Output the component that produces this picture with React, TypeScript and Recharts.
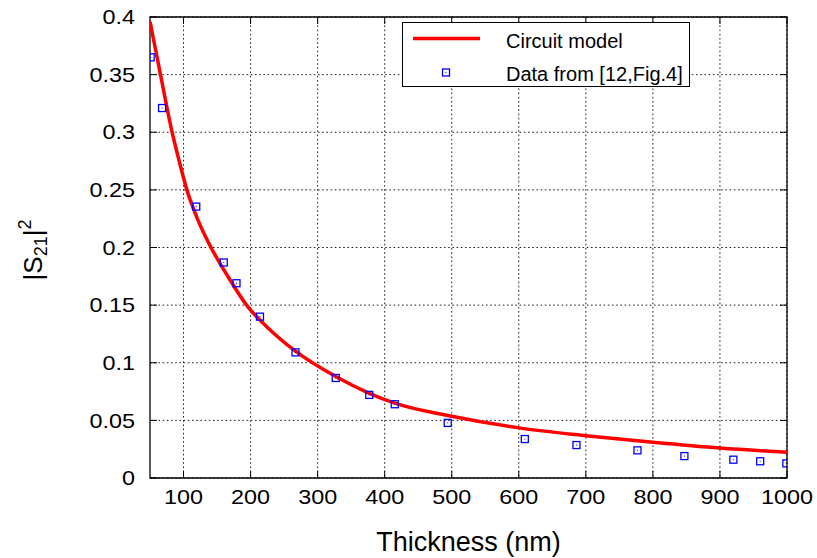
import React from 'react';
import {
  ComposedChart,
  Line,
  Scatter,
  XAxis,
  YAxis,
  CartesianGrid,
  ReferenceArea,
  Legend,
  Label,
} from 'recharts';

// ---- data ----
const modelThickness = [50, 65, 83, 94, 105, 120, 141, 165, 194, 230, 267, 327, 377, 415, 500, 600, 700, 800, 900, 1000];
const modelS21 = [0.396, 0.352, 0.3, 0.274, 0.25, 0.226, 0.2, 0.176, 0.15, 0.128, 0.11, 0.088, 0.0735, 0.065, 0.0536, 0.0435, 0.0367, 0.031, 0.026, 0.0223];

const dataThickness = [51, 68, 119, 160, 179, 214, 267, 327, 377, 415, 494, 609, 686, 777, 847, 920, 960, 999];
const dataS21 = [0.365, 0.321, 0.2355, 0.187, 0.169, 0.14, 0.109, 0.0868, 0.0721, 0.064, 0.0478, 0.0338, 0.0286, 0.024, 0.019, 0.0159, 0.0145, 0.0127];

const xTicks = [100, 200, 300, 400, 500, 600, 700, 800, 900, 1000];
const yTicks = [0, 0.05, 0.1, 0.15, 0.2, 0.25, 0.3, 0.35, 0.4];

const seriesNames = ['Circuit model', 'Data from [12,Fig.4]'];
const xLabel = 'Thickness (nm)';

const modelData = modelThickness.map((x, i) => ({ x, y: modelS21[i] }));
const pointData = dataThickness.map((x, i) => ({ x, y: dataS21[i] }));

// ---- styles ----
const FONT = "'Liberation Sans', Arial, Helvetica, sans-serif";
const W = 817;
const H = 558;
const PLOT_LEFT = 150;
const PLOT_TOP = 17;
const PLOT_RIGHT = 787;
const PLOT_BOTTOM = 478;
const TICK_LEN = 7;
const TICK_STRETCH = 1.17;

const fmt = (v: number) => String(Number(v.toFixed(2)));

const YTick = (props: any) => {
  const { y, payload } = props;
  return (
    <g>
      <line x1={PLOT_LEFT} x2={PLOT_LEFT + TICK_LEN} y1={y} y2={y} stroke="#000" strokeWidth={1} />
      <line x1={PLOT_RIGHT} x2={PLOT_RIGHT - TICK_LEN} y1={y} y2={y} stroke="#000" strokeWidth={1} />
      <text
        transform={`translate(${PLOT_LEFT - 15} ${y}) scale(${TICK_STRETCH} 1)`}
        x={0}
        y={0}
        dy="0.36em"
        textAnchor="end"
        fontSize={20}
        fontFamily={FONT}
        fill="#000"
      >
        {fmt(payload.value)}
      </text>
    </g>
  );
};

const XTick = (props: any) => {
  const { x, payload } = props;
  return (
    <g>
      <line x1={x} x2={x} y1={PLOT_BOTTOM} y2={PLOT_BOTTOM - TICK_LEN} stroke="#000" strokeWidth={1} />
      <line x1={x} x2={x} y1={PLOT_TOP} y2={PLOT_TOP + TICK_LEN} stroke="#000" strokeWidth={1} />
      <text
        transform={`translate(${x} ${PLOT_BOTTOM + 26}) scale(${TICK_STRETCH} 1)`}
        x={0}
        y={0}
        textAnchor="middle"
        fontSize={20}
        fontFamily={FONT}
        fill="#000"
      >
        {payload.value}
      </text>
    </g>
  );
};

const SquareMarker = (props: any) => {
  const { cx, cy } = props;
  if (cx == null || cy == null) return null;
  return (
    <g>
      <rect x={cx - 3.5} y={cy - 3.5} width={7} height={7} fill="none" stroke="#0000ff" strokeWidth={1.3} />
      <rect x={cx - 0.5} y={cy - 0.5} width={1} height={1} fill="#0000ff" />
    </g>
  );
};

const LegendBox = () => (
  <svg width={290} height={66} style={{ display: 'block' }}>
    <rect x={0.5} y={0.5} width={287} height={64} fill="#fff" stroke="#000" strokeWidth={1} />
    <line x1={11} x2={78} y1={16.5} y2={16.5} stroke="#ff0000" strokeWidth={3.5} />
    <text x={104} y={25.5} fontSize={20} fontFamily={FONT} fill="#000">{seriesNames[0]}</text>
    <rect x={40.5} y={47} width={7} height={7} fill="none" stroke="#0000ff" strokeWidth={1.3} />
    <rect x={43.5} y={50} width={1} height={1} fill="#0000ff" />
    <text x={104} y={58.5} fontSize={20} fontFamily={FONT} fill="#000">{seriesNames[1]}</text>
  </svg>
);

const XLabelContent = (props: any) => {
  const vb = props.viewBox || {};
  const cx = (vb.x ?? PLOT_LEFT) + (vb.width ?? PLOT_RIGHT - PLOT_LEFT) / 2;
  return (
    <text x={cx} y={551} textAnchor="middle" fontSize={27} fontFamily={FONT} fill="#000">
      {xLabel}
    </text>
  );
};

const YLabelContent = () => {
  const x = 42;
  const y = 250;
  return (
    <text
      x={x}
      y={y}
      transform={`rotate(-90 ${x} ${y})`}
      textAnchor="middle"
      fontSize={26}
      fontFamily={FONT}
      fill="#000"
    >
      |S
      <tspan fontSize={18} dy={5}>21</tspan>
      <tspan dy={-5}>|</tspan>
      <tspan fontSize={18} dy={-11}>2</tspan>
    </text>
  );
};

export default function App() {
  return (
    <div style={{ position: 'absolute', left: 0, top: 0, width: W, height: H, background: '#fff' }}>
      <ComposedChart
        width={W}
        height={H}
        margin={{ top: PLOT_TOP, right: W - PLOT_RIGHT, bottom: 0, left: 0 }}
      >
        <CartesianGrid
          stroke="#222"
          strokeWidth={1}
          strokeDasharray="1.6 2.6"
          horizontalValues={yTicks}
          verticalValues={xTicks}
        />
        <XAxis
          type="number"
          dataKey="x"
          domain={[50, 1000]}
          ticks={xTicks}
          allowDataOverflow
          height={H - PLOT_BOTTOM}
          axisLine={false}
          tickLine={false}
          tickSize={0}
          tick={<XTick />}
          interval={0}
        >
          <Label content={<XLabelContent />} />
        </XAxis>
        <YAxis
          type="number"
          domain={[0, 0.4]}
          ticks={yTicks}
          allowDataOverflow
          width={PLOT_LEFT}
          axisLine={false}
          tickLine={false}
          tickSize={0}
          tick={<YTick />}
          interval={0}
        >
          <Label content={<YLabelContent />} />
        </YAxis>
        <ReferenceArea
          x1={50}
          x2={1000}
          y1={0}
          y2={0.4}
          fill="none"
          stroke="#000"
          strokeWidth={1.3}
          ifOverflow="visible"
        />
        <Line
          data={modelData}
          dataKey="y"
          type="monotone"
          stroke="#ff0000"
          strokeWidth={3.5}
          dot={false}
          activeDot={false}
          isAnimationActive={false}
          name={seriesNames[0]}
        />
        <Scatter
          data={pointData}
          dataKey="y"
          shape={<SquareMarker />}
          isAnimationActive={false}
          name={seriesNames[1]}
        />
        <Legend
          layout="vertical"
          align="center"
          verticalAlign="middle"
          content={<LegendBox />}
          wrapperStyle={{ position: 'absolute', left: 402, top: 22, width: 290, height: 66 }}
        />
      </ComposedChart>
    </div>
  );
}
